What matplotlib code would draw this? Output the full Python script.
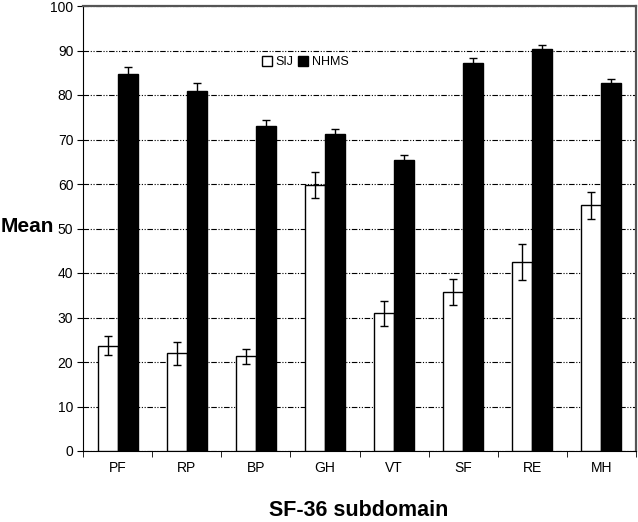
import matplotlib.pyplot as plt
import numpy as np

plt.rcParams['font.family'] = ['Liberation Sans', 'DejaVu Sans']

cats = ['PF', 'RP', 'BP', 'GH', 'VT', 'SF', 'RE', 'MH']
sij = [23.7, 22.0, 21.3, 59.8, 30.9, 35.7, 42.5, 55.2]
sij_err = [2.2, 2.6, 1.7, 3.0, 2.7, 3.0, 4.0, 3.0]
nhms = [84.8, 80.9, 73.0, 71.2, 65.5, 87.3, 90.4, 82.6]
nhms_err = [1.4, 1.8, 1.3, 1.2, 1.1, 1.1, 0.9, 1.0]

fig = plt.figure(figsize=(6.38, 5.22), dpi=100)
ax = fig.add_axes([83/638, 1-451/522, 553/638, 445/522])

x = np.arange(len(cats))
w = 0.29
ax.bar(x - w/2, sij, w, color='white', edgecolor='black', linewidth=1, label='SIJ', zorder=3,
       yerr=sij_err, error_kw=dict(ecolor='black', elinewidth=1, capsize=3, capthick=1))
ax.bar(x + w/2, nhms, w, color='black', edgecolor='black', linewidth=1, label='NHMS', zorder=3,
       yerr=nhms_err, error_kw=dict(ecolor='black', elinewidth=1, capsize=3, capthick=1))

ax.set_ylim(0, 100)
ax.set_xlim(-0.5, len(cats) - 0.5)
ax.set_yticks(range(0, 101, 10))
ax.set_xticks(x)
ax.set_xticklabels(cats, fontsize=10)
ax.set_xticks(np.arange(-0.5, len(cats), 1), minor=True)
ax.tick_params(axis='x', which='major', length=0, pad=7)
ax.tick_params(axis='x', which='minor', length=4, direction='out')
ax.tick_params(axis='y', labelsize=10, length=4, direction='out', pad=3)
ax.yaxis.grid(True, color='black', linestyle=(0, (5, 1.5, 1, 1.5, 1, 1.5)), linewidth=0.8, zorder=0)
ax.set_axisbelow(True)
for s in ['top', 'right']:
    ax.spines[s].set_color('#555555')
    ax.spines[s].set_linewidth(1.6)

ax.legend(loc='center left', bbox_to_anchor=(0.313, 0.874), frameon=False, ncol=2, fontsize=9,
          handlelength=0.8, handleheight=0.8, columnspacing=0.4, handletextpad=0.25, borderpad=0)

fig.text(27/638, 1-226/522, 'Mean', fontsize=15, fontweight='bold', ha='center', va='center')
fig.text(359/638, 1-511/522, 'SF-36 subdomain', fontsize=15.5, fontweight='bold', ha='center', va='center')

plt.savefig('out.png', dpi=100)
